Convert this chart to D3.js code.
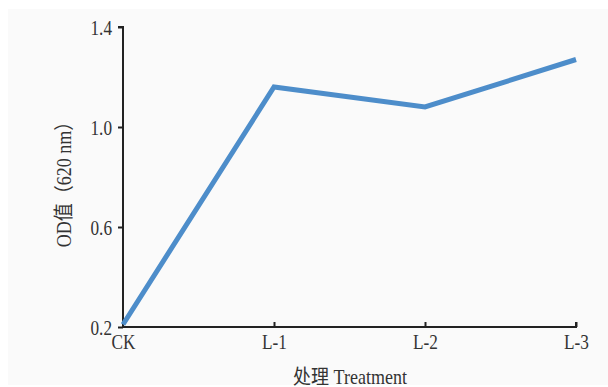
<!DOCTYPE html>
<html>
<head>
<meta charset="utf-8">
<script src="https://cdnjs.cloudflare.com/ajax/libs/d3/7.8.5/d3.min.js"></script>
<style>
  body { margin: 0; background: #fff; }
  svg text { font-family: "Liberation Serif", "Noto Sans CJK SC", serif; fill: #333; }
</style>
</head>
<body>
<script>
  const treatments = ["CK", "L-1", "L-2", "L-3"];
  const odValues = [0.21, 1.16, 1.08, 1.27];
  const yTicks = [0.2, 0.6, 1.0, 1.4];

  const w = 608, h = 387;
  const padL = 123, padR = 576, padT = 27, padB = 327;
  const sx = 0.82; // narrow glyphs like the original

  const svg = d3.select("body").append("svg")
    .attr("width", w)
    .attr("height", h);

  // light panel behind the chart
  svg.append("rect")
    .attr("x", 8).attr("y", 9)
    .attr("width", w - 8).attr("height", 376)
    .attr("fill", "#fafafa");

  const x = d3.scalePoint().domain(treatments).range([padL, padR]);
  const y = d3.scaleLinear().domain([0.2, 1.4]).range([padB, padT]);

  const yAxis = d3.axisLeft(y)
    .tickValues(yTicks)
    .tickFormat(d3.format(".1f"))
    .tickSize(5);

  const gy = svg.append("g")
    .attr("transform", "translate(" + padL + ",0)")
    .call(yAxis);
  gy.select(".domain").attr("d", "M-5," + padT + "H0V" + padB);

  const xAxis = d3.axisBottom(x)
    .tickSize(-5);

  const gx = svg.append("g")
    .attr("transform", "translate(0," + padB + ")")
    .call(xAxis);
  gx.select(".domain").attr("d", "M" + padL + ",0H" + padR + "V-5");
  gx.selectAll(".tick").filter(d => d === "CK").select("line").remove();

  svg.selectAll(".domain, .tick line")
    .attr("stroke", "#222")
    .attr("stroke-width", 2);
  svg.selectAll(".tick text")
    .attr("font-size", 21)
    .style("font-family", '"Liberation Serif", serif')
    .attr("fill", "#333")
    .attr("transform", "scale(" + sx + ",1)");
  gy.selectAll(".tick text").attr("x", -11 / sx).attr("dy", "0.35em");
  gx.selectAll(".tick text").attr("y", 7).attr("dy", "0.71em");

  const line = d3.line()
    .x((d, i) => x(treatments[i]))
    .y(d => y(d));

  svg.append("path")
    .datum(odValues)
    .attr("fill", "none")
    .attr("stroke", "#4d8dca")
    .attr("stroke-width", 5)
    .attr("stroke-linejoin", "miter")
    .attr("d", line);

  svg.append("text")
    .attr("transform", "translate(350,384) scale(0.9,1)")
    .attr("text-anchor", "middle")
    .attr("font-size", 20)
    .text("处理 Treatment");

  svg.append("text")
    .attr("transform", "translate(71,180) rotate(-90) scale(0.9,1)")
    .attr("text-anchor", "middle")
    .attr("font-size", 20)
    .text("OD值（620 nm）");
</script>
</body>
</html>
